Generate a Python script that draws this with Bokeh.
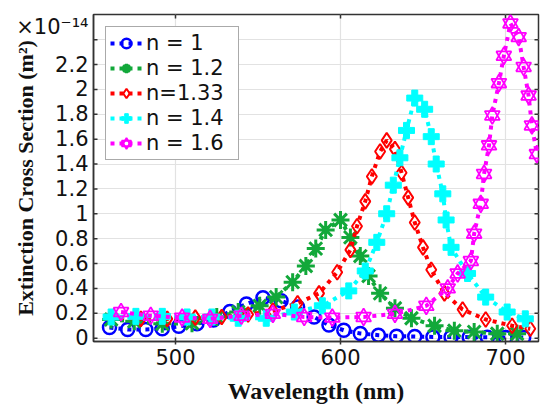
from bokeh.plotting import figure
from bokeh.models import Range1d, FixedTicker, Legend, LegendItem
from bokeh.embed import file_html
from bokeh.resources import INLINE

# ---- data, extinction in units of 1e-14 m^2 ----
wl_n1 = [460, 471, 482, 492, 502, 513, 523, 533, 543, 553, 564, 574, 584, 593, 602,
         612, 623, 634, 645, 656, 667, 678, 689, 700, 711]
ext_n1 = [0.085, 0.07, 0.07, 0.076, 0.095, 0.115, 0.145, 0.215, 0.275, 0.325, 0.30, 0.25,
          0.17, 0.105, 0.063, 0.038, 0.024, 0.016, 0.013, 0.010, 0.009, 0.008, 0.007,
          0.006, 0.005]

wl_n12 = [461, 475, 492, 510, 525, 538, 551, 561, 571, 579, 585, 591, 600, 606, 612,
          617, 624, 633, 643, 657, 669, 681, 695, 707]
ext_n12 = [0.15, 0.135, 0.115, 0.12, 0.17, 0.21, 0.26, 0.33, 0.45, 0.58, 0.72, 0.87,
           0.95, 0.81, 0.66, 0.50, 0.36, 0.24, 0.16, 0.10, 0.06, 0.05, 0.035, 0.035]

wl_n133 = [461, 479, 495, 512, 528, 544, 559, 574, 587, 598, 606, 610, 615, 619, 624,
           628, 633, 637, 641, 645, 650, 655, 663, 674, 688, 704, 715]
ext_n133 = [0.17, 0.155, 0.155, 0.165, 0.17, 0.19, 0.22, 0.28, 0.36, 0.53, 0.71, 0.90,
            1.10, 1.30, 1.50, 1.59, 1.52, 1.33, 1.13, 0.93, 0.73, 0.55, 0.36, 0.23,
            0.15, 0.10, 0.075]

wl_n14 = [461, 476, 492, 507, 522, 538, 555, 572, 589, 605, 615, 622, 628, 632, 636,
          640, 645, 651, 655, 658, 662, 664, 667, 677, 688, 701, 712]
ext_n14 = [0.17, 0.175, 0.175, 0.17, 0.17, 0.16, 0.16, 0.21, 0.26, 0.38, 0.54, 0.77,
           1.00, 1.23, 1.45, 1.67, 1.93, 1.84, 1.62, 1.40, 1.16, 0.95, 0.73, 0.52,
           0.33, 0.21, 0.155]

wl_n16 = [467, 485, 504, 521, 540, 559, 578, 595, 614, 633, 652, 665, 671, 679, 681,
          685, 687, 690, 692, 696, 699, 703, 708, 711, 714, 716, 719]
ext_n16 = [0.21, 0.18, 0.165, 0.155, 0.18, 0.195, 0.17, 0.165, 0.17, 0.195, 0.26, 0.40,
           0.52, 0.62, 0.84, 1.08, 1.32, 1.55, 1.79, 2.05, 2.27, 2.53, 2.42, 2.18,
           1.95, 1.71, 1.48]

series_labels = ["n = 1", "n = 1.2", "n=1.33", "n = 1.4", "n = 1.6"]
x_ticks = [500, 600, 700]
y_ticks = [0, 0.2, 0.4, 0.6, 0.8, 1.0, 1.2, 1.4, 1.6, 1.8, 2.0, 2.2, 2.4]
y_tick_labels = ["0", "0.2", "0.4", "0.6", "0.8", "1", "1.2", "1.4", "1.6", "1.8",
                 "2", "2.2", ""]
exp_tick = 2.5
exp_label = "×10⁻¹⁴"

X_START, X_END = 450.3, 720.0
Y_START, Y_END = -0.027, 2.602
W, H = 550, 414
BL, BR, BT, BB = 93, 12, 14, 73

# ---- figure ----
p = figure(width=W, height=H, output_backend="svg", toolbar_location=None,
           x_range=Range1d(X_START, X_END), y_range=Range1d(Y_START, Y_END),
           min_border_left=BL, min_border_right=BR, min_border_top=BT,
           min_border_bottom=BB)
p.outline_line_color = "#333333"
p.outline_line_width = 1.5

for ax in (p.xaxis[0], p.yaxis[0]):
    ax.axis_line_color = "#333333"
    ax.axis_line_width = 1.5
    ax.major_tick_line_color = "#333333"
    ax.major_tick_line_width = 1.5
    ax.minor_tick_line_color = None
    ax.major_label_text_font = "DejaVu Sans"
    ax.major_label_text_color = "#111111"
    ax.axis_label_text_font = "Liberation Serif"
    ax.axis_label_text_font_style = "bold"
    ax.axis_label_text_color = "#111111"

p.xaxis.ticker = FixedTicker(ticks=x_ticks)
p.xaxis.major_tick_in = 4
p.xaxis.major_tick_out = 3
p.xaxis.major_label_text_font_size = "21px"
p.xaxis.major_label_standoff = 4
p.xaxis.axis_label = "Wavelength (nm)"
p.xaxis.axis_label_text_font_size = "24px"
p.xaxis.axis_label_standoff = 10

# y axis: the exponent is shown as an extra tick label above the last tick
p.yaxis.ticker = FixedTicker(ticks=y_ticks + [exp_tick])
p.yaxis.major_label_overrides = dict(zip(y_ticks + [exp_tick], y_tick_labels + [exp_label]))
p.yaxis.major_tick_in = 0
p.yaxis.major_tick_out = 0
p.yaxis.major_label_text_font_size = "21px"
p.yaxis.major_label_standoff = 5
p.yaxis.axis_label = "Extinction Cross Section (m²)"
p.yaxis.axis_label_text_font_size = "22px"
p.yaxis.axis_label_standoff = -25

p.xgrid.grid_line_color = "#e2e2e2"
p.ygrid.grid_line_color = "#e2e2e2"
p.ygrid.ticker = FixedTicker(ticks=y_ticks)
p.xgrid.grid_line_width = 1.2
p.ygrid.grid_line_width = 1.2

# inward tick marks on the top, left and right edges of the box (4 px long)
fw, fh = W - BL - BR, H - BT - BB
tx = 4 * (X_END - X_START) / fw
ty = 4 * (Y_END - Y_START) / fh
n_y = len(y_ticks)
p.segment(x0=x_ticks, y0=[Y_END] * len(x_ticks), x1=x_ticks,
          y1=[Y_END - ty] * len(x_ticks), line_color="#333333", line_width=1.5)
p.segment(x0=[X_END] * n_y, y0=y_ticks, x1=[X_END - tx] * n_y,
          y1=y_ticks, line_color="#333333", line_width=1.5)
p.segment(x0=[X_START] * n_y, y0=y_ticks, x1=[X_START + tx] * n_y,
          y1=y_ticks, line_color="#333333", line_width=1.5)

dash = "4 5"
lw = 4
items = []

# n = 1 : blue circles
l1 = p.line(wl_n1, ext_n1, line_color="#0000ff", line_width=lw, line_dash=dash)
m1 = p.scatter(wl_n1, ext_n1, marker="circle", size=13, fill_color=None,
               line_color="#0000ff", line_width=2.5)
items.append(LegendItem(label=series_labels[0], renderers=[l1, m1]))

# n = 1.2 : green asterisks
l2 = p.line(wl_n12, ext_n12, line_color="#12a83a", line_width=lw, line_dash=dash)
m2 = p.scatter(wl_n12, ext_n12, marker="asterisk", size=18, line_color="#12a83a",
               line_width=3)
items.append(LegendItem(label=series_labels[1], renderers=[l2, m2]))

# n = 1.33 : red diamonds
l3 = p.line(wl_n133, ext_n133, line_color="#ff0000", line_width=lw, line_dash=dash)
m3 = p.scatter(wl_n133, ext_n133, marker="diamond", size=15, fill_color=None,
               line_color="#ff0000", line_width=2)
items.append(LegendItem(label=series_labels[2], renderers=[l3, m3]))

# n = 1.4 : cyan plus
l4 = p.line(wl_n14, ext_n14, line_color="#00ffff", line_width=lw, line_dash=dash)
m4 = p.scatter(wl_n14, ext_n14, marker="plus", size=16, fill_color="#00ffff",
               line_color="#00ffff", line_width=1)
items.append(LegendItem(label=series_labels[3], renderers=[l4, m4]))

# n = 1.6 : magenta hexagrams (two triangles)
l5 = p.line(wl_n16, ext_n16, line_color="#ff00ff", line_width=lw, line_dash=dash)
m5a = p.scatter(wl_n16, ext_n16, marker="triangle", size=15, fill_color=None,
                line_color="#ff00ff", line_width=1.8)
m5b = p.scatter(wl_n16, ext_n16, marker="inverted_triangle", size=15, fill_color=None,
                line_color="#ff00ff", line_width=1.8)
items.append(LegendItem(label=series_labels[4], renderers=[l5, m5a, m5b]))

legend = Legend(items=items, location="top_left", margin=12, padding=4, spacing=1,
                glyph_height=24, glyph_width=32, label_height=24, label_width=88,
                label_standoff=4, label_text_font="DejaVu Sans",
                label_text_font_size="21px", label_text_color="#111111",
                border_line_color="#555555", border_line_width=1.5,
                background_fill_color="white", background_fill_alpha=1.0)
p.add_layout(legend)

open("out.html", "w").write(file_html(p, INLINE))
